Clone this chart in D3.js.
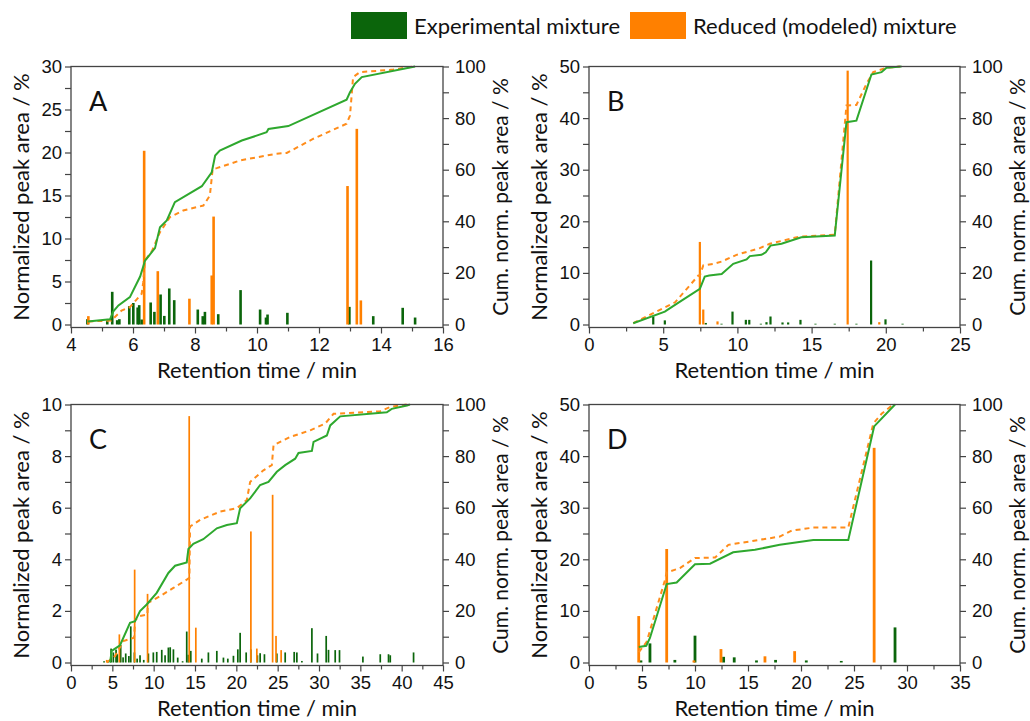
<!DOCTYPE html>
<html>
<head>
<meta charset="utf-8">
<script src="https://cdn.jsdelivr.net/npm/d3@7"></script>
<style>
  body { margin: 0; background: #fff; }
  svg { font-family: Lato, 'Open Sans', sans-serif; }
</style>
</head>
<body>
<svg id="chart" width="1030" height="721"></svg>
<script>
// peaks: [retention time (min), normalized peak area (%)]
// cumulative: [retention time (min), cumulative normalized peak area (%)]

const aExpPeaks = [[4.53, 0.62], [5.17, 0.43], [5.33, 3.8], [5.49, 0.5], [5.56, 0.62], [5.88, 2.13], [6.01, 2.5],
    [6.15, 1.98], [6.2, 2.25], [6.28, 0.58], [6.57, 2.56], [6.69, 1.47], [6.89, 3.49], [7.01, 1.0], [7.17, 4.19],
    [7.33, 2.83], [8.09, 1.74], [8.25, 0.97], [8.32, 1.47], [8.75, 1.2], [9.47, 4.0], [10.1, 1.74], [10.29, 0.81],
    [10.34, 1.16], [10.98, 1.36], [12.98, 2.05], [13.75, 0.97], [14.7, 1.94], [15.1, 0.81]];
const aModPeaks = [[4.56, 0.97], [6.36, 20.2], [6.8, 6.2], [7.82, 3.0], [8.54, 5.7], [8.6, 12.55], [12.92, 16.1],
    [13.22, 22.75], [13.35, 2.8]];
const aCumExp = [[4.54, 1.2], [5.26, 2], [5.36, 5], [5.53, 7.4], [5.9, 10.6], [6.23, 18.6], [6.39, 24.8], [6.71, 29.6],
    [6.87, 37.7], [7.09, 40.3], [7.35, 47.4], [8.22, 53.6], [8.54, 59], [8.65, 65.5], [8.8, 67.4], [9.51, 71.3],
    [10.31, 74.5], [10.37, 75.8], [11.01, 76.9], [12.89, 87.1], [13.0, 90], [13.16, 93.3], [13.38, 95.9], [15.1, 100]];
const aCumMod = [[4.56, 1.2], [5.3, 1.5], [5.63, 5.4], [5.9, 6.7], [6.28, 11.9], [6.33, 16.4], [6.39, 24.8], [6.62, 28.7],
    [6.87, 35.8], [7.19, 41.6], [7.62, 44.2], [8.27, 46.1], [8.48, 50], [8.57, 60.3], [8.7, 60.6], [9.46, 63.6],
    [10.31, 65.5], [10.63, 66.2], [10.96, 66.5], [11.82, 72], [12.89, 77.8], [13.0, 81], [13.1, 95.9], [13.32, 97.8],
    [14.4, 98.8], [15.04, 100]];

const bExpPeaks = [[4.33, 1.55], [5.11, 0.8], [7.87, 0.3], [8.93, 0.15], [9.67, 2.5], [10.57, 0.9], [10.8, 0.9],
    [11.58, 0.15], [11.96, 0.45], [12.23, 1.55], [13.04, 0.4], [13.42, 0.4], [14.25, 0.9], [15.26, 0.15], [16.56, 0.15],
    [18.02, 0.15], [19.01, 12.4], [19.98, 1.0], [21.13, 0.15]];
const bModPeaks = [[7.47, 16.0], [7.7, 2.9], [8.66, 0.6], [17.43, 49.2], [19.56, 0.45]];
const bCumExp = [[2.98, 0.5], [5.11, 5], [5.9, 8], [7.47, 13.8], [7.8, 18.6], [8.1, 19], [8.94, 19.6], [9.72, 23.5],
    [10.62, 25.2], [10.84, 26.5], [11.62, 27], [11.91, 28], [12.23, 30.6], [12.97, 31.3], [14.31, 33.8], [16.56, 34.5],
    [17.35, 78.4], [18.02, 79], [19.03, 96.9], [19.71, 97.8], [20.05, 99.5], [21.06, 100]];
const bCumMod = [[2.98, 0.5], [5.8, 8.6], [7.37, 19], [7.47, 19], [7.7, 22.9], [8.38, 23.5], [8.94, 24.4], [9.94, 27],
    [11.51, 29.6], [12.18, 31.3], [14.22, 34.1], [16.56, 34.8], [17.35, 84.9], [18.02, 85.1], [18.7, 93.3],
    [19.15, 97.8], [20.05, 99.5], [20.95, 100]];

const cExpPeaks = [[4.0, 0.05], [4.5, 0.08], [4.85, 0.54], [5.12, 0.39], [5.45, 0.5], [5.6, 0.32], [6.01, 0.68],
    [6.3, 0.2], [6.62, 0.35], [7.0, 0.25], [7.23, 1.4], [7.67, 0.39], [8.0, 0.15], [8.35, 0.28], [8.8, 0.1],
    [9.36, 0.35], [9.96, 0.39], [10.37, 0.41], [10.98, 0.49], [11.38, 0.28], [11.78, 0.58], [12.0, 0.59],
    [12.39, 0.51], [12.91, 0.19], [13.5, 0.05], [14.0, 1.2], [14.2, 0.3], [14.49, 0.45], [15.82, 0.15],
    [16.62, 0.39], [17.64, 0.45], [18.44, 0.19], [18.97, 0.15], [19.65, 0.26], [20.18, 0.51], [20.46, 1.15],
    [21.19, 0.39], [21.75, 0.51], [22.55, 0.28], [22.88, 0.36], [23.4, 0.32], [24.9, 0.35], [25.91, 0.39],
    [27.0, 0.41], [27.32, 0.39], [27.93, 0.06], [29.14, 1.33], [29.82, 0.35], [30.87, 1.03], [31.15, 0.49],
    [31.96, 0.48], [32.48, 0.48], [35.31, 0.23], [37.41, 0.32], [38.41, 0.32], [38.62, 0.28], [41.44, 0.39]];
const cModPeaks = [[4.32, 0.1], [5.85, 1.09], [7.7, 3.6], [9.26, 2.66], [14.3, 9.55], [15.1, 1.35], [21.76, 5.08],
    [22.48, 0.54], [24.39, 6.5], [24.8, 1.03], [25.42, 0.48]];
const cCumExp = [[4.72, 0], [4.93, 4.5], [5.33, 5.4], [5.93, 6.7], [7.14, 15.4], [7.75, 16], [8.35, 19.9], [9.16, 22.5],
    [10.37, 27], [11.78, 34.7], [12.59, 37.5], [14.0, 38.8], [14.2, 44], [14.8, 46], [16.0, 47.8], [17.64, 52],
    [18.85, 53.3], [20.06, 54], [20.46, 59.8], [21.67, 63.6], [22.88, 68.8], [23.89, 70], [24.9, 73.9], [25.91, 76.5],
    [27.12, 79], [27.52, 81.2], [29.14, 82], [29.34, 85.5], [30.95, 88], [31.36, 91.9], [32.57, 95.4], [38.2, 97],
    [38.8, 98.3], [40.64, 99.6], [41.0, 100]];
const cCumMod = [[4.32, 0], [5.33, 2.5], [6.33, 8.3], [7.63, 9.6], [7.75, 16.4], [8.35, 18], [9.24, 18.6], [9.3, 23.1],
    [10.77, 25.7], [12.39, 28.9], [14.0, 32.1], [14.32, 32.8], [14.4, 52.7], [15.62, 55.3], [18.04, 58.5],
    [20.06, 59.8], [21.27, 63], [21.67, 70], [23.28, 74.5], [24.29, 76.5], [24.5, 84.2], [26.5, 87.4], [28.94, 90],
    [30.75, 92.6], [31.76, 96.4], [37.4, 97.4], [38.6, 99], [40.6, 100]];

const dExpPeaks = [[4.9, 0.4], [5.75, 3.7], [8.1, 0.5], [10.0, 5.2], [12.7, 1.1], [13.7, 1.0], [15.8, 0.4],
    [17.6, 0.5], [20.5, 0.4], [23.8, 0.3], [28.87, 6.8]];
const dModPeaks = [[4.69, 9.0], [7.33, 22.0], [9.9, 0.4], [12.45, 2.6], [16.6, 1.2], [19.4, 2.2], [26.9, 41.6]];
const dCumExp = [[4.7, 6], [5.4, 6.5], [5.75, 9.5], [7.33, 30.4], [8.27, 31], [10.0, 38.1], [11.42, 38.3],
    [13.6, 42.7], [15.66, 43.7], [18.0, 45.6], [21.16, 47.5], [24.46, 47.5], [26.9, 91.5], [28.87, 100]];
const dCumMod = [[4.7, 4], [5.44, 8], [7.17, 32], [7.33, 34.9], [8.58, 36.6], [10.0, 40.5], [11.9, 40.7],
    [13.15, 45.6], [18.0, 48.8], [19.12, 51.1], [21.16, 52.3], [24.46, 52.3], [26.82, 92.6], [27.6, 96.4],
    [28.7, 100]];

const aXTicks = [4, 6, 8, 10, 12, 14, 16];
const bXTicks = [0, 5, 10, 15, 20, 25];
const cXTicks = [0, 5, 10, 15, 20, 25, 30, 35, 40, 45];
const dXTicks = [0, 5, 10, 15, 20, 25, 30, 35];
const aYTicks = [0, 5, 10, 15, 20, 25, 30];
const bYTicks = [0, 10, 20, 30, 40, 50];
const cYTicks = [0, 2, 4, 6, 8, 10];
const dYTicks = [0, 10, 20, 30, 40, 50];
const cumTicks = [0, 20, 40, 60, 80, 100];

const legendLabels = ['Experimental mixture', 'Reduced (modeled) mixture'];

const GREEN_BAR = '#0b650b';
const ORANGE = '#ff8000';
const GREEN_LINE = '#2ea82e';
const ORANGE_LINE = '#ff8c1a';
const AXIS = '#444';

const panels = [
    { name: 'A', left: 71, top: 66.5, right: 443, bottom: 327.5, xTicks: aXTicks, xMinor: 1, yTicks: aYTicks,
        exp: aExpPeaks, mod: aModPeaks, cumExp: aCumExp, cumMod: aCumMod, barW: 2.6 },
    { name: 'B', left: 589, top: 66.5, right: 960, bottom: 327.5, xTicks: bXTicks, xMinor: 2.5, yTicks: bYTicks,
        exp: bExpPeaks, mod: bModPeaks, cumExp: bCumExp, cumMod: bCumMod, barW: 2.2 },
    { name: 'C', left: 71, top: 404.5, right: 443, bottom: 665.5, xTicks: cXTicks, xMinor: 2.5, yTicks: cYTicks,
        exp: cExpPeaks, mod: cModPeaks, cumExp: cCumExp, cumMod: cCumMod, barW: 1.7 },
    { name: 'D', left: 589, top: 404.5, right: 960, bottom: 665.5, xTicks: dXTicks, xMinor: 2.5, yTicks: dYTicks,
        exp: dExpPeaks, mod: dModPeaks, cumExp: dCumExp, cumMod: dCumMod, barW: 2.8 },
];

const svg = d3.select('#chart');

function minorValues(ticks, step) {
    const lo = ticks[0];
    const hi = ticks[ticks.length - 1];
    return d3.range(lo, hi + step / 2, step).filter((v) => ticks.indexOf(v) < 0);
}

function styleAxis(g) {
    g.select('.domain').remove();
    g.selectAll('line').attr('stroke', AXIS).attr('stroke-width', 1.2);
    g.selectAll('text').attr('fill', '#111').style('font-size', '18.5px');
}

function drawPanel(p) {
    const g = svg.append('g');
    const zeroY = p.bottom - 3;
    const xMax = p.xTicks[p.xTicks.length - 1];
    const yMax = p.yTicks[p.yTicks.length - 1];
    const x = d3.scaleLinear().domain([p.xTicks[0], xMax]).range([p.left, p.right]);
    const y = d3.scaleLinear().domain([0, yMax]).range([zeroY, p.top]);
    const yCum = d3.scaleLinear().domain([0, 100]).range([zeroY, p.top]);
    const yStep = p.yTicks[1] - p.yTicks[0];

    // bars
    g.append('g').selectAll('rect')
        .data(p.exp)
        .enter()
        .append('rect')
        .attr('x', (d) => x(d[0]) - p.barW / 2)
        .attr('y', (d) => y(d[1]))
        .attr('width', p.barW)
        .attr('height', (d) => zeroY - y(d[1]))
        .attr('fill', GREEN_BAR);
    g.append('g').selectAll('rect')
        .data(p.mod)
        .enter()
        .append('rect')
        .attr('x', (d) => x(d[0]) - p.barW / 2)
        .attr('y', (d) => y(d[1]))
        .attr('width', p.barW)
        .attr('height', (d) => zeroY - y(d[1]))
        .attr('fill', ORANGE);

    // cumulative curves
    const line = d3.line().x((d) => x(d[0])).y((d) => yCum(d[1]));
    g.append('path')
        .datum(p.cumMod)
        .attr('d', line)
        .attr('fill', 'none')
        .attr('stroke', ORANGE_LINE)
        .attr('stroke-width', 2)
        .attr('stroke-dasharray', '5,4');
    g.append('path')
        .datum(p.cumExp)
        .attr('d', line)
        .attr('fill', 'none')
        .attr('stroke', GREEN_LINE)
        .attr('stroke-width', 2);

    // frame
    g.append('rect')
        .attr('x', p.left)
        .attr('y', p.top)
        .attr('width', p.right - p.left)
        .attr('height', p.bottom - p.top)
        .attr('fill', 'none')
        .attr('stroke', AXIS)
        .attr('stroke-width', 1.3);

    // panel letter
    g.append('text')
        .attr('x', p.left + 18)
        .attr('y', p.top + 44)
        .style('font-size', '27px')
        .attr('fill', '#111')
        .text(p.name);

    // bottom axis
    g.append('g')
        .attr('transform', 'translate(0,' + p.bottom + ')')
        .call(d3.axisBottom(x).tickValues(p.xTicks).tickSize(6).tickPadding(4).tickFormat(d3.format('d')))
        .call(styleAxis);
    g.append('g')
        .attr('transform', 'translate(0,' + p.bottom + ')')
        .call(d3.axisBottom(x).tickValues(minorValues(p.xTicks, p.xMinor)).tickSize(4).tickFormat(''))
        .call(styleAxis);

    // left axis
    g.append('g')
        .attr('transform', 'translate(' + p.left + ',0)')
        .call(d3.axisLeft(y).tickValues(p.yTicks).tickSize(6).tickPadding(3).tickFormat(d3.format('d')))
        .call(styleAxis);
    g.append('g')
        .attr('transform', 'translate(' + p.left + ',0)')
        .call(d3.axisLeft(y).tickValues(minorValues(p.yTicks, yStep / 2)).tickSize(6).tickFormat(''))
        .call(styleAxis);

    // right axis
    g.append('g')
        .attr('transform', 'translate(' + p.right + ',0)')
        .call(d3.axisRight(yCum).tickValues(cumTicks).tickSize(6).tickPadding(6).tickFormat(d3.format('d')))
        .call(styleAxis);
    g.append('g')
        .attr('transform', 'translate(' + p.right + ',0)')
        .call(d3.axisRight(yCum).tickValues(minorValues(cumTicks, 10)).tickSize(6).tickFormat(''))
        .call(styleAxis);

    // axis titles
    const midY = (p.top + p.bottom) / 2;
    g.append('text')
        .attr('transform', 'translate(' + (p.left - 50) + ',' + midY + ') rotate(-90)')
        .attr('text-anchor', 'middle')
        .attr('dy', '0.35em')
        .style('font-size', '22px')
        .attr('fill', '#111')
        .text('Normalized peak area / %');
    g.append('text')
        .attr('transform', 'translate(' + (p.right + 58) + ',' + midY + ') rotate(-90)')
        .attr('text-anchor', 'middle')
        .attr('dy', '0.35em')
        .style('font-size', '21px')
        .attr('fill', '#111')
        .text('Cum. norm. peak area / %');
    g.append('text')
        .attr('x', (p.left + p.right) / 2)
        .attr('y', p.bottom + 43)
        .attr('text-anchor', 'middle')
        .attr('dy', '0.35em')
        .style('font-size', '22px')
        .attr('fill', '#111')
        .text('Retention time / min');
}

panels.forEach(drawPanel);

// legend
const legend = svg.append('g');
const legendX = [351, 630];
const legendColors = [GREEN_BAR, ORANGE];
legendLabels.forEach(function (label, i) {
    legend.append('rect')
        .attr('x', legendX[i])
        .attr('y', 12)
        .attr('width', 56)
        .attr('height', 27)
        .attr('fill', legendColors[i]);
    legend.append('text')
        .attr('x', legendX[i] + 63)
        .attr('y', 26)
        .attr('dy', '0.35em')
        .style('font-size', '22px')
        .attr('fill', '#111')
        .text(label);
});
</script>
</body>
</html>
